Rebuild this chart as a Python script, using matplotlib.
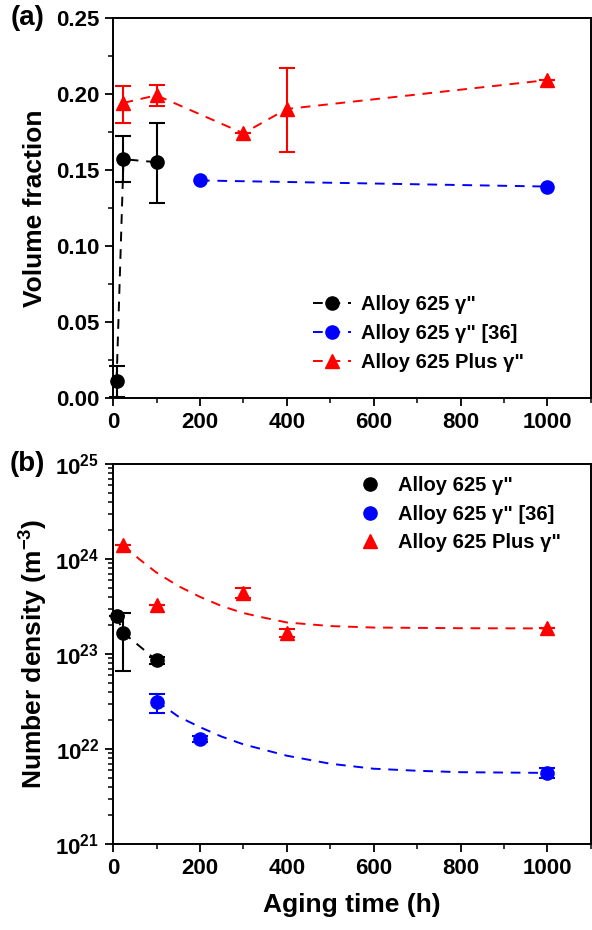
import numpy as np
import matplotlib
matplotlib.use('Agg')
import matplotlib.pyplot as plt
from matplotlib.lines import Line2D
from matplotlib.ticker import MultipleLocator, LogLocator, FixedLocator

plt.rcParams['font.family'] = ['Liberation Sans', 'DejaVu Sans']
plt.rcParams['font.weight'] = 'bold'
plt.rcParams['mathtext.fontset'] = 'custom'
plt.rcParams['mathtext.rm'] = 'Liberation Sans:bold'
plt.rcParams['mathtext.bf'] = 'Liberation Sans:bold'
plt.rcParams['mathtext.it'] = 'Liberation Sans:bold'

# (a) volume fraction
t_625 = [8, 24, 100]
vf_625 = [0.011, 0.157, 0.155]
vf_625_lo = [0.001, 0.142, 0.128]
vf_625_hi = [0.021, 0.172, 0.181]

t_625_ref = [200, 1000]
vf_625_ref = [0.143, 0.139]

t_plus = [24, 100, 300, 400, 1000]
vf_plus = [0.194, 0.199, 0.174, 0.190, 0.209]
vf_plus_lo = [0.181, 0.192, 0.174, 0.162, 0.209]
vf_plus_hi = [0.205, 0.206, 0.174, 0.217, 0.209]

# (b) number density
nd_625 = [2.5e23, 1.67e23, 8.6e22]
nd_625_lo = [2.5e23, 6.6e22, 7.9e22]
nd_625_hi = [2.5e23, 2.7e23, 9.4e22]

t_625_ref_b = [100, 200, 1000]
nd_625_ref = [3.1e22, 1.27e22, 5.6e21]
nd_625_ref_lo = [2.4e22, 1.18e22, 5.0e21]
nd_625_ref_hi = [3.8e22, 1.36e22, 6.3e21]

nd_plus = [1.42e24, 3.3e23, 4.4e23, 1.67e23, 1.87e23]
nd_plus_lo = [1.42e24, 3.3e23, 3.9e23, 1.5e23, 1.87e23]
nd_plus_hi = [1.42e24, 3.3e23, 4.9e23, 1.85e23, 1.87e23]

# fitted trend lines
fit_plus_t = [24, 60, 100, 150, 200, 250, 300, 350, 400, 500, 600, 800, 1000]
fit_plus_nd = [1.40e24, 1.0e24, 7.2e23, 5.2e23, 4.0e23, 3.2e23, 2.7e23, 2.4e23,
               2.15e23, 1.97e23, 1.9e23, 1.87e23, 1.86e23]
fit_ref_t = [100, 150, 200, 250, 300, 400, 500, 600, 700, 800, 1000]
fit_ref_nd = [3.2e22, 2.2e22, 1.7e22, 1.35e22, 1.12e22, 8.5e21, 7.0e21,
              6.2e21, 5.9e21, 5.7e21, 5.6e21]

labels = ['Alloy 625 γ"', 'Alloy 625 γ" [36]', 'Alloy 625 Plus γ"']
colors = ['black', '#0000ff', '#ff0000']
markers = ['o', 'o', '^']


def yerr(v, lo, hi):
    v = np.array(v)
    return [v - np.array(lo), np.array(hi) - v]


fig = plt.figure(figsize=(5.92, 9.30), dpi=100)
ax1 = fig.add_axes([0.191, 0.572, 0.807, 0.409])
ax2 = fig.add_axes([0.191, 0.0925, 0.807, 0.4085])

ms = 9.5
ekw = dict(capsize=6, elinewidth=1.5, capthick=1.5)

# ---- panel (a)
ax1.errorbar(t_625, vf_625, yerr=yerr(vf_625, vf_625_lo, vf_625_hi), fmt='o--',
             color='black', ms=ms, lw=1.4, dashes=(5, 4), clip_on=False, **ekw)
ax1.plot(t_625_ref, vf_625_ref, 'o--', color='#0000ff', ms=ms, lw=1.4, dashes=(5, 4))
ax1.errorbar(t_plus, vf_plus, yerr=yerr(vf_plus, vf_plus_lo, vf_plus_hi), fmt='^--',
             color='#ff0000', ms=ms + 1, lw=1.4, dashes=(5, 4), **ekw)

ax1.set_xlim(0, 1100)
ax1.set_ylim(0, 0.25)
ax1.xaxis.set_major_locator(MultipleLocator(200))
ax1.xaxis.set_minor_locator(MultipleLocator(100))
ax1.yaxis.set_major_locator(MultipleLocator(0.05))
ax1.yaxis.set_minor_locator(MultipleLocator(0.025))
ax1.yaxis.set_major_formatter(plt.FuncFormatter(lambda v, p: f'{v:.2f}'))
ax1.set_ylabel('Volume fraction', fontsize=19, fontweight='bold', labelpad=6)

handles_a = [Line2D([], [], color=c, marker=m, ms=ms + (m == '^'), lw=1.4,
                    dashes=(5, 4)) for c, m in zip(colors, markers)]
ax1.legend(handles_a, labels, loc='lower left', bbox_to_anchor=(0.38, 0.02),
           frameon=False, fontsize=14.5, handlelength=1.9, handletextpad=0.5,
           labelspacing=0.5)
ax1.text(-0.18, 1.0, '(a)', transform=ax1.transAxes, fontsize=20,
         fontweight='bold', va='center', ha='center')

# ---- panel (b)
ax2.errorbar(t_625, nd_625, yerr=yerr(nd_625, nd_625_lo, nd_625_hi), fmt='o',
             color='black', ms=ms, clip_on=False, **ekw)
ax2.plot(t_625, nd_625, '--', color='black', lw=1.4, dashes=(5, 4))
ax2.errorbar(t_625_ref_b, nd_625_ref, yerr=yerr(nd_625_ref, nd_625_ref_lo, nd_625_ref_hi),
             fmt='o', color='#0000ff', ms=ms, **ekw)
ax2.plot(fit_ref_t, fit_ref_nd, '--', color='#0000ff', lw=1.4, dashes=(5, 4))
ax2.errorbar(t_plus, nd_plus, yerr=yerr(nd_plus, nd_plus_lo, nd_plus_hi), fmt='^',
             color='#ff0000', ms=ms + 1, **ekw)
ax2.plot(fit_plus_t, fit_plus_nd, '--', color='#ff0000', lw=1.4, dashes=(5, 4))

ax2.set_yscale('log')
ax2.set_xlim(0, 1100)
ax2.set_ylim(1e21, 1e25)
ax2.xaxis.set_major_locator(MultipleLocator(200))
ax2.xaxis.set_minor_locator(MultipleLocator(100))
ax2.yaxis.set_major_locator(FixedLocator([1e21, 1e22, 1e23, 1e24, 1e25]))
ax2.yaxis.set_minor_locator(LogLocator(base=10, subs=np.arange(2, 10)))
ax2.yaxis.set_major_formatter(plt.FuncFormatter(
    lambda v, p: r'$\mathbf{10^{%d}}$' % round(np.log10(v))))
ax2.set_ylabel(r'Number density (m$^{\mathbf{-3}}$)', fontsize=19,
               fontweight='bold', labelpad=4)
ax2.set_xlabel('Aging time (h)', fontsize=19, fontweight='bold', labelpad=10)

handles_b = [Line2D([], [], color=c, marker=m, ms=ms + (m == '^'), lw=0)
             for c, m in zip(colors, markers)]
ax2.legend(handles_b, labels, loc='upper right', bbox_to_anchor=(0.975, 1.015),
           frameon=False, fontsize=14.5, handlelength=1.2, handletextpad=0.8,
           labelspacing=0.45)
ax2.text(-0.18, 1.0, '(b)', transform=ax2.transAxes, fontsize=20,
         fontweight='bold', va='center', ha='center')

for ax in (ax1, ax2):
    ax.tick_params(which='major', direction='out', length=6, width=1.3,
                   labelsize=16, pad=4)
    ax.tick_params(which='minor', direction='out', length=3.5, width=1.1)
    for lab in ax.get_xticklabels() + ax.get_yticklabels():
        lab.set_fontweight('bold')
    for sp in ax.spines.values():
        sp.set_linewidth(1.4)

fig.savefig('out.png', dpi=100, facecolor='white')
